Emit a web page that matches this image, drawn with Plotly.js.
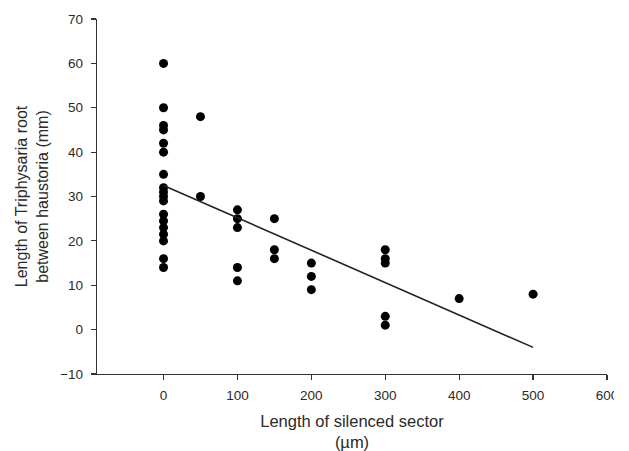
<!DOCTYPE html>
<html>
<head>
<meta charset="utf-8">
<script src="https://cdn.plot.ly/plotly-3.0.1.min.js"></script>
<style>html,body{margin:0;padding:0;background:#fff;}#chart{width:629px;height:451px;}</style>
</head>
<body>
<div id="chart"></div>
<script>
// Silenced sector length (µm) and root length between haustoria (mm)
const sectorX = [
  0,0,0,0,0,0,0,0,0,0,0,0,0,0,0,0,0,0,
  50,50,
  100,100,100,100,100,
  150,150,150,
  200,200,200,
  300,300,300,300,300,
  400,
  500
];
const rootY = [
  60,50,46,45,42,40,35,32,31,30,29,26,24.5,23,21.5,20,16,14,
  48,30,
  27,25,23,14,11,
  25,18,16,
  15,12,9,
  18,16,15,3,1,
  7,
  8
];
const fitX = [0, 500];
const fitY = [32.5, -4.0];
const xTicks = [0, 100, 200, 300, 400, 500, 600];
const yTicks = [-10, 0, 10, 20, 30, 40, 50, 60, 70];

const data = [
  {
    x: sectorX, y: rootY,
    type: 'scatter', mode: 'markers',
    marker: {color: '#000', size: 9},
    hoverinfo: 'skip', cliponaxis: false
  },
  {
    x: fitX, y: fitY, type: 'scatter', mode: 'lines',
    line: {color: '#222', width: 1.6}, hoverinfo: 'skip'
  }
];

const font = {family: 'Liberation Sans, Arial, sans-serif', color: '#2a2a2a'};
const L = 97, R = 22;
const layout = {
  width: 629, height: 451,
  margin: {l: L, r: R, t: 19, b: 77},
  paper_bgcolor: '#fff', plot_bgcolor: '#fff',
  showlegend: false,
  font: Object.assign({size: 13.5}, font),
  xaxis: {
    range: [-90, 600], tickvals: xTicks, ticktext: xTicks.map(String),
    showgrid: false, zeroline: false,
    showline: true, linecolor: '#333', linewidth: 1.2,
    ticks: 'outside', ticklen: 5, tickcolor: '#333', tickwidth: 1.2,
    ticklabelstandoff: 4,
    tickfont: Object.assign({size: 13.5}, font),
    title: {text: 'Length of silenced sector<br>(µm)', font: Object.assign({size: 16.5}, font), standoff: 16}
  },
  yaxis: {
    range: [-10, 70], tickvals: yTicks,
    showgrid: false, zeroline: false,
    showline: true, linecolor: '#333', linewidth: 1.2,
    ticks: 'outside', ticklen: 5, tickcolor: '#333', tickwidth: 1.2,
    ticklabelstandoff: 5,
    tickfont: Object.assign({size: 13.5}, font),
    title: {text: 'Length of Triphysaria root<br>between haustoria (mm)', font: Object.assign({size: 16}, font), standoff: 7}
  },
  shapes: [
    {type: 'rect', xref: 'paper', yref: 'paper', x0: (614 - L) / (629 - L - R), x1: 1.2, y0: -0.3, y1: 1.1,
     fillcolor: '#fff', line: {width: 0}, layer: 'above'}
  ]
};
Plotly.newPlot('chart', data, layout, {staticPlot: true, displayModeBar: false});
</script>
</body>
</html>
